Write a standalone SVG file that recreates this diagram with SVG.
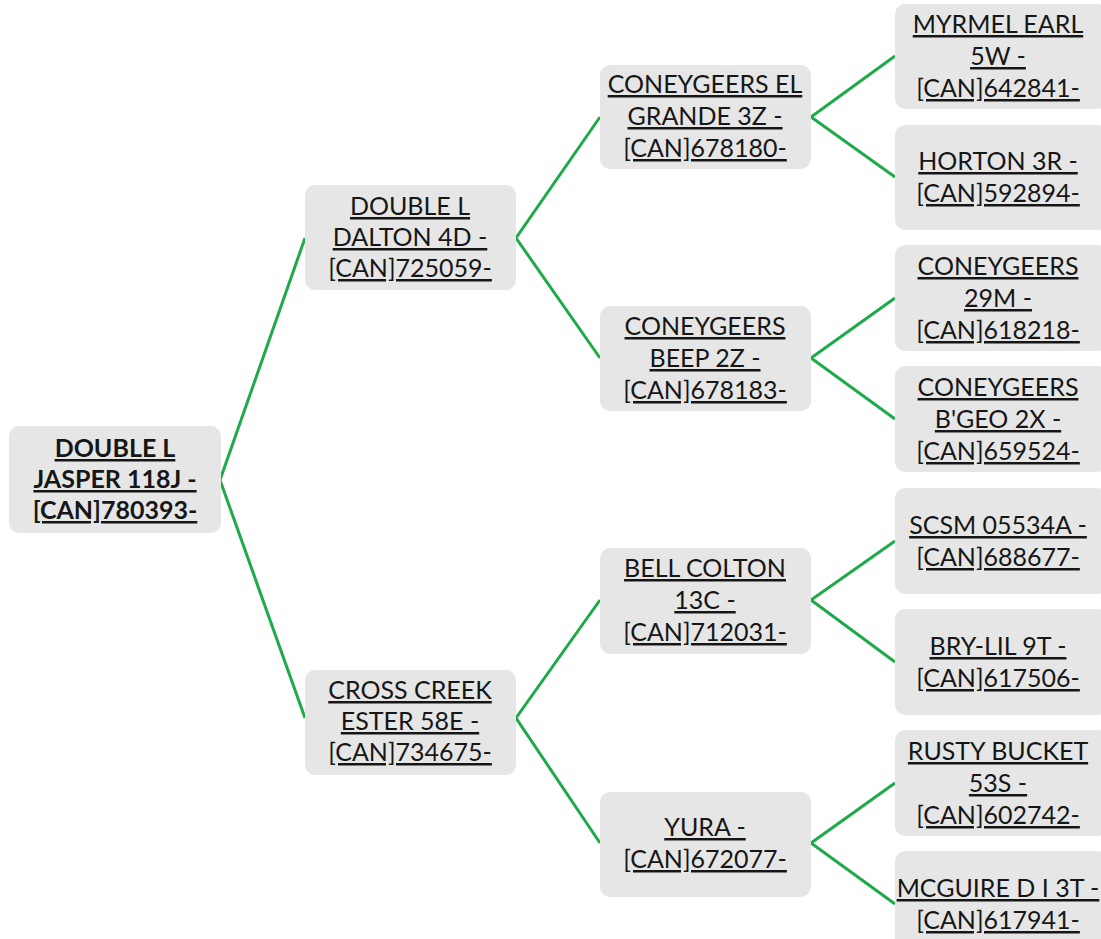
<svg xmlns="http://www.w3.org/2000/svg" width="1101" height="939" viewBox="0 0 1101 939">
<style>
.box{fill:#e6e6e6}
.t{font-family:Lato,"Liberation Sans",sans-serif;font-size:25px;fill:#161616;text-anchor:middle;text-decoration:underline}
.b{font-weight:bold}
.c{fill:none;stroke:#1faa4a;stroke-width:3;stroke-linejoin:miter}
</style>
<rect width="1101" height="939" fill="#ffffff"/>
<g id="connectors">
<polyline class="c" points="305,238 220,480 305,718"/>
<polyline class="c" points="600,117 516,238 600,358"/>
<polyline class="c" points="600,600 516,718 600,843"/>
<polyline class="c" points="895,56 811,117 895,177"/>
<polyline class="c" points="895,298 811,358 895,419"/>
<polyline class="c" points="895,541 811,600 895,662"/>
<polyline class="c" points="895,783 811,843 895,904"/>
</g>
<g id="n0"><rect class="box" x="9" y="426" width="212" height="107" rx="10"/>
<text class="t b" x="115"><tspan x="115" y="457">DOUBLE L</tspan><tspan x="115" y="488">JASPER 118J -</tspan><tspan x="115" y="519">[CAN]780393-</tspan></text></g>
<g id="n1"><rect class="box" x="305" y="185" width="211" height="105" rx="10"/>
<text class="t" x="410"><tspan x="410" y="215">DOUBLE L</tspan><tspan x="410" y="246">DALTON 4D -</tspan><tspan x="410" y="277">[CAN]725059-</tspan></text></g>
<g id="n2"><rect class="box" x="305" y="670" width="211" height="105" rx="10"/>
<text class="t" x="410"><tspan x="410" y="699">CROSS CREEK</tspan><tspan x="410" y="730">ESTER 58E -</tspan><tspan x="410" y="761">[CAN]734675-</tspan></text></g>
<g id="n3"><rect class="box" x="600" y="65" width="211" height="104" rx="10"/>
<text class="t" x="705"><tspan x="705" y="93">CONEYGEERS EL</tspan><tspan x="705" y="125">GRANDE 3Z -</tspan><tspan x="705" y="157">[CAN]678180-</tspan></text></g>
<g id="n4"><rect class="box" x="600" y="306" width="211" height="105" rx="10"/>
<text class="t" x="705"><tspan x="705" y="335">CONEYGEERS</tspan><tspan x="705" y="367">BEEP 2Z -</tspan><tspan x="705" y="399">[CAN]678183-</tspan></text></g>
<g id="n5"><rect class="box" x="600" y="548" width="211" height="106" rx="10"/>
<text class="t" x="705"><tspan x="705" y="577">BELL COLTON</tspan><tspan x="705" y="609">13C -</tspan><tspan x="705" y="641">[CAN]712031-</tspan></text></g>
<g id="n6"><rect class="box" x="600" y="792" width="211" height="105" rx="10"/>
<text class="t" x="705"><tspan x="705" y="836">YURA -</tspan><tspan x="705" y="868">[CAN]672077-</tspan></text></g>
<g id="n7"><rect class="box" x="895" y="4" width="212" height="105" rx="10"/>
<text class="t" x="998"><tspan x="998" y="33">MYRMEL EARL</tspan><tspan x="998" y="65">5W -</tspan><tspan x="998" y="97">[CAN]642841-</tspan></text></g>
<g id="n8"><rect class="box" x="895" y="125" width="212" height="105" rx="10"/>
<text class="t" x="998"><tspan x="998" y="170">HORTON 3R -</tspan><tspan x="998" y="202">[CAN]592894-</tspan></text></g>
<g id="n9"><rect class="box" x="895" y="245" width="212" height="106" rx="10"/>
<text class="t" x="998"><tspan x="998" y="275">CONEYGEERS</tspan><tspan x="998" y="307">29M -</tspan><tspan x="998" y="339">[CAN]618218-</tspan></text></g>
<g id="n10"><rect class="box" x="895" y="366" width="212" height="106" rx="10"/>
<text class="t" x="998"><tspan x="998" y="396">CONEYGEERS</tspan><tspan x="998" y="428">B'GEO 2X -</tspan><tspan x="998" y="460">[CAN]659524-</tspan></text></g>
<g id="n11"><rect class="box" x="895" y="488" width="212" height="106" rx="10"/>
<text class="t" x="998"><tspan x="998" y="534">SCSM 05534A -</tspan><tspan x="998" y="566">[CAN]688677-</tspan></text></g>
<g id="n12"><rect class="box" x="895" y="609" width="212" height="106" rx="10"/>
<text class="t" x="998"><tspan x="998" y="655">BRY-LIL 9T -</tspan><tspan x="998" y="687">[CAN]617506-</tspan></text></g>
<g id="n13"><rect class="box" x="895" y="730" width="212" height="106" rx="10"/>
<text class="t" x="998"><tspan x="998" y="760">RUSTY BUCKET</tspan><tspan x="998" y="792">53S -</tspan><tspan x="998" y="824">[CAN]602742-</tspan></text></g>
<g id="n14"><rect class="box" x="895" y="851" width="212" height="106" rx="10"/>
<text class="t" x="998"><tspan x="998" y="897">MCGUIRE D I 3T -</tspan><tspan x="998" y="929">[CAN]617941-</tspan></text></g>
</svg>
